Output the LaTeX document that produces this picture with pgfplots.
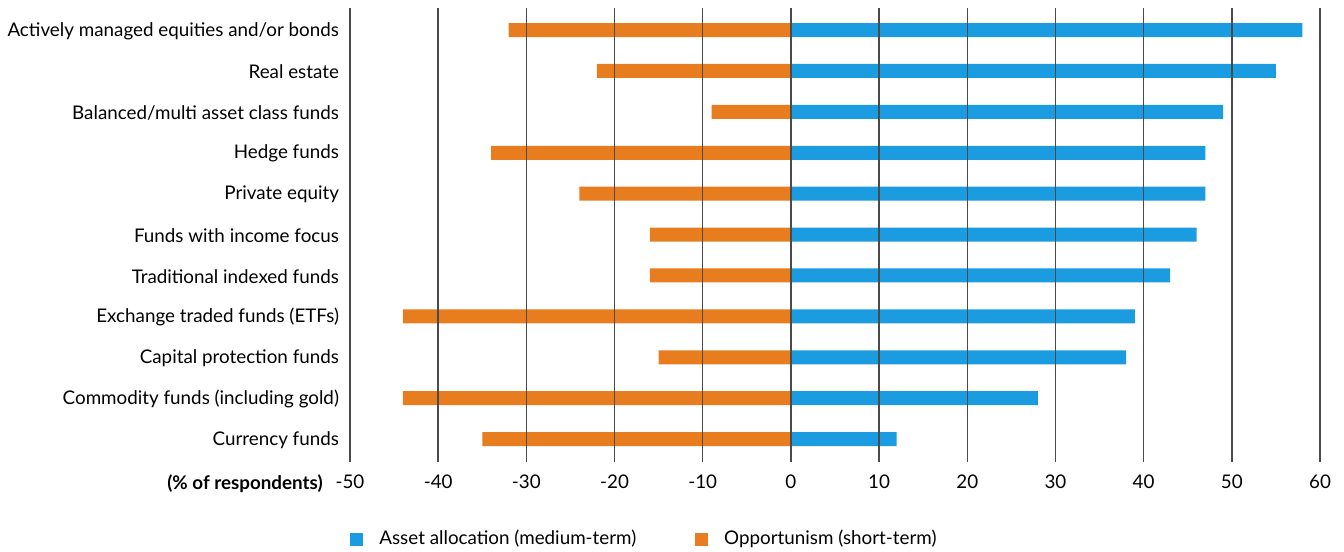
\documentclass[border=0pt]{standalone}
\usepackage{pgfplots}
\pgfplotsset{compat=1.18}
\usepackage{fontspec}
\setmainfont{Lato}
\definecolor{cblue}{HTML}{1B9BE0}
\definecolor{corange}{HTML}{E87D1F}
\definecolor{gridc}{HTML}{4A4A4A}
\newcommand{\fs}{\fontsize{9.4bp}{11bp}\selectfont}
\begin{document}
\begin{tikzpicture}
\begin{axis}[
  scale only axis,
  width=485bp, height=227bp,
  xmin=-50, xmax=60, ymin=0.44, ymax=11.54,
  xtick={-50,-40,...,60},
  ytick={1,...,11},
  yticklabels={Currency funds,Commodity funds (including gold),Capital protection funds,Exchange traded funds (ETFs),Traditional indexed funds,Funds with income focus,Private equity,Hedge funds,{Balanced/multi asset class funds},Real estate,{Actively managed equities and/or bonds}},
  xmajorgrids, grid style={gridc, line width=0.75bp},
  axis line style={draw=none},
  major tick length=0pt,
  tick style={draw=none},
  axis on top,
  xbar, bar width=7bp, bar shift=0pt,
  font=\fs,
  ticklabel style={font=\fs},
  /pgf/number format/assume math mode=true,
  xticklabel style={yshift=-3bp},
  yticklabel style={xshift=-2bp, yshift=-0.4bp},
  clip=false,
  legend columns=2,
  legend style={draw=none, at={(rel axis cs:0,-0.17)}, anchor=west, inner sep=0pt,
    font=\fs,
    /tikz/every even column/.append style={column sep=27.5bp},
    /tikz/every odd column/.append style={column sep=6bp}},
  legend image code/.code={\fill[#1] (0bp,-3.25bp) rectangle (6.5bp,3.25bp);},
]
\addplot[fill=cblue, draw=none] coordinates {
(12,1) (28,2) (38,3) (39,4) (43,5) (46,6) (47,7) (47,8) (49,9) (55,10) (58,11)};
\addplot[fill=corange, draw=none] coordinates {
(-35,1) (-44,2) (-15,3) (-44,4) (-16,5) (-16,6) (-24,7) (-34,8) (-9,9) (-22,10) (-32,11)};
\legend{Asset allocation (medium-term),Opportunism (short-term)}
\coordinate (sw) at (rel axis cs:0,0);
\node[anchor=north east, font=\fs\bfseries, inner sep=0pt] at ([xshift=-13.5bp,yshift=-3bp-3.1bp]rel axis cs:0,0) {(\% of respondents)};
\end{axis}
\path (sw) ++(-175bp,-45bp) rectangle ++(672bp,276bp);
\end{tikzpicture}
\end{document}
